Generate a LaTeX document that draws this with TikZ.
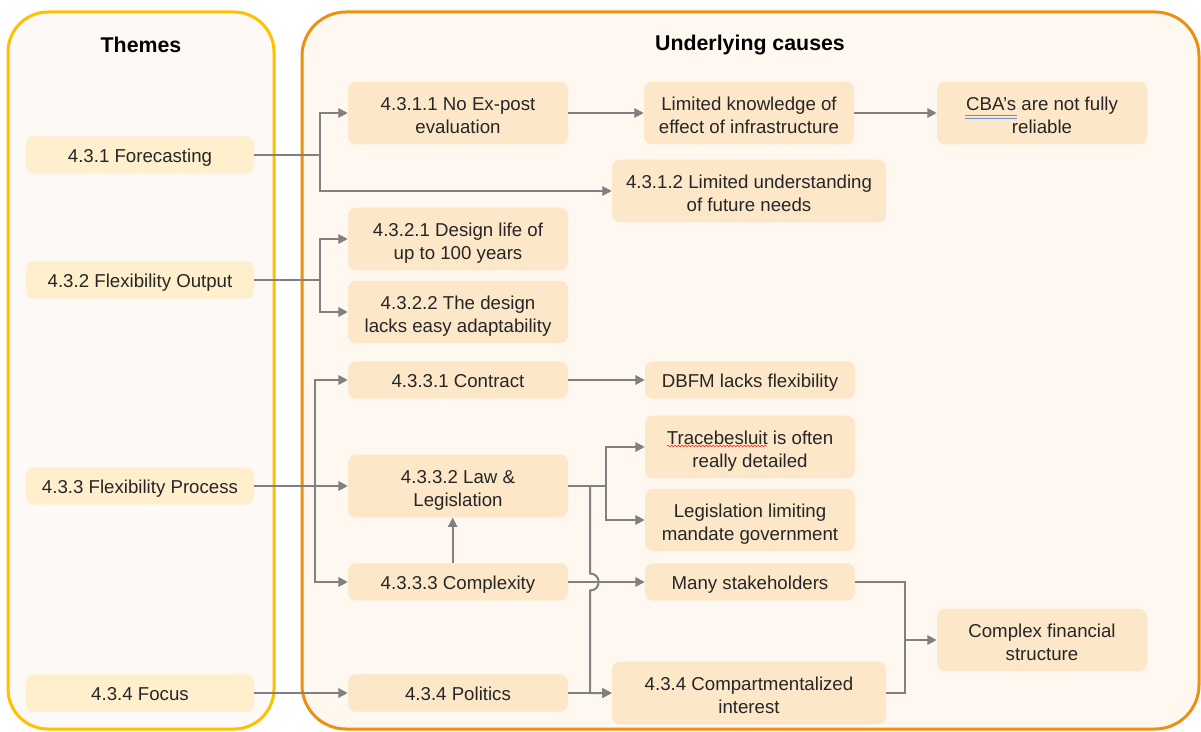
\documentclass[tikz,border=0pt]{standalone}
\usepackage{fontspec}
\setmainfont{Liberation Sans}
\usetikzlibrary{arrows.meta,decorations.pathmorphing}
\definecolor{themefill}{HTML}{FFEFCC}
\definecolor{causefill}{HTML}{FDE7C9}
\definecolor{boxone}{HTML}{FFC000}
\definecolor{boxtwo}{HTML}{EE900F}
\definecolor{bgone}{HTML}{FDF9F6}
\definecolor{bgtwo}{HTML}{FEF8F1}
\definecolor{conn}{HTML}{808080}
\definecolor{txt}{HTML}{262626}
\definecolor{spellblue}{HTML}{6F8FD8}
\newcommand{\topstrut}{\rule{0pt}{16.5pt}}
\begin{document}
\begin{tikzpicture}[x=0.75pt,y=-0.75pt,
  basebox/.style={rounded corners=6pt, text=txt, font=\fontsize{14}{17}\selectfont, align=center, inner sep=0pt,
    execute at end node={\rule[-3pt]{0pt}{3pt}}},
  theme/.style={basebox, fill=themefill, minimum width=171pt, minimum height=28pt,
    execute at begin node={\rule{0pt}{13.5pt}}},
  cause/.style={basebox, fill=causefill, minimum width=165pt},
  wide/.style={minimum width=205.5pt},
  mid/.style={minimum width=157.5pt},
  short/.style={minimum height=28pt, execute at begin node={\rule{0pt}{13.5pt}}},
  tall/.style={minimum height=47pt},
  line/.style={draw=conn, line width=1.5pt},
  arr/.style={line, -{Triangle[length=7pt,width=7pt]}},
  title/.style={font=\fontsize{16}{19}\selectfont\bfseries, text=black}]
\useasboundingbox (0,0) rectangle (1201,731);
\fill[white] (0,0) rectangle (1201,731);
% outer panels
\draw[boxone, fill=bgone, line width=2.25pt, rounded corners=30pt] (8,12) rectangle (274,729);
\draw[boxtwo, fill=bgtwo, line width=2.25pt, rounded corners=33pt] (302,12) rectangle (1199,729);
\node[title] (t1) at (141,45) {Themes};
\node[title] (t2) at (750,45) {Underlying causes};
% themes
\node[theme] (fc) at (140,155) {4.3.1 Forecasting};
\node[theme] (fo) at (140,280) {4.3.2 Flexibility Output};
\node[theme] (fp) at (140,486) {4.3.3 Flexibility Process};
\node[theme] (fx) at (140,693) {4.3.4 Focus};
% causes
\node[cause, tall] (a1) at (458,113) {\topstrut 4.3.1.1 No Ex-post\\evaluation};
\node[cause, tall, mid] (a2) at (749,113) {\topstrut Limited knowledge of\\effect of infrastructure};
\node[cause, tall, mid] (a3) at (1042,113) {\topstrut CBA’s are not fully\\reliable};
\node[cause, tall, wide] (a4) at (749,191) {\topstrut 4.3.1.2 Limited understanding\\of future needs};
\node[cause, tall] (b1) at (458,239) {\topstrut 4.3.2.1 Design life of\\up to 100 years};
\node[cause, tall] (b2) at (458,312) {\topstrut 4.3.2.2 The design\\lacks easy adaptability};
\node[cause, short] (c1) at (458,380) {4.3.3.1 Contract};
\node[cause, short, mid] (c2) at (750,380) {DBFM lacks flexibility};
\node[cause, tall, mid] (c3) at (750,447) {\topstrut Tracebesluit is often\\really detailed};
\node[cause, tall, mid] (c4) at (750,520) {\topstrut Legislation limiting\\mandate government};
\node[cause, tall] (law) at (458,486) {\topstrut 4.3.3.2 Law \&\\Legislation};
\node[cause, short] (cx) at (458,582) {4.3.3.3 Complexity};
\node[cause, short, mid] (ms) at (750,582) {Many stakeholders};
\node[cause, tall, mid] (cf) at (1042,640) {\topstrut Complex financial\\structure};
\node[cause, short] (po) at (458,693) {4.3.4 Politics};
\node[cause, tall, wide] (ci) at (749,693) {\topstrut 4.3.4 Compartmentalized\\interest};
% spell-check marks
\draw[red!80, line width=0.5pt, decorate, decoration={snake, amplitude=0.6pt, segment length=2.6pt}] (667,446) -- (767,446);
\draw[spellblue, line width=0.6pt] (965,115.5) -- (1017,115.5) (965,118) -- (1017,118);
% junctions
\coordinate (j1) at (320,155);
\coordinate (j2) at (320,280);
\coordinate (j3) at (315,486);
\coordinate (j4) at (606,486);
\coordinate (j5) at (590,486);
\coordinate (j6) at (905,640);
% connectors
\draw[line] (fc.east) -- (j1);
\draw[arr] (j1) |- (a1);
\draw[arr] (j1) |- (a4);
\draw[arr] (a1) -- (a2);
\draw[arr] (a2) -- (a3);
\draw[line] (fo.east) -- (j2);
\draw[arr] (j2) |- (b1);
\draw[arr] (j2) |- (b2);
\draw[arr] (fp) -- (law);
\draw[arr] (j3) |- (c1);
\draw[arr] (j3) |- (cx);
\draw[arr] (c1) -- (c2);
\draw[arr] ([xshift=-4pt]cx.north) -- ([xshift=-4pt]law.south);
\draw[line] (law.east) -- (j4);
\draw[arr] (j4) |- (c3);
\draw[arr] (j4) |- (c4);
\draw[arr] (cx) -- (ms);
\draw[arr] (j5) -- (590,573.5) .. controls (601.5,573.5) and (601.5,590.5) .. (590,590.5) -- (590,693) -- (ci.west);
\draw[arr] (po) -- (ci);
\draw[arr] (fx) -- (po);
\draw[line] (ms.east) -| (j6);
\draw[line] (ci.east) -| (j6);
\draw[arr] (j6) -- (cf);
\end{tikzpicture}
\end{document}
